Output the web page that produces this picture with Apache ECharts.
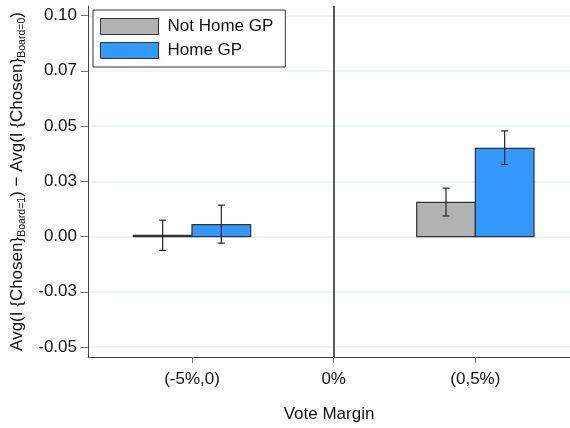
<!DOCTYPE html>
<html>
<head>
<meta charset="utf-8">
<script src="https://cdn.jsdelivr.net/npm/echarts@6/dist/echarts.min.js"></script>
<style>html,body{margin:0;padding:0;background:#fff;}#c{width:570px;height:428px;}</style>
</head>
<body>
<div id="c"></div>
<script>
// ---- data ----
const categories = ['(-5%,0)', '0%', '(0,5%)'];
const categoryPos = [-1, 0, 1];
const groupPos = [-1, 1];
const notHome = [0.0005, 0.0155];
const notHomeLow = [-0.0063, 0.0093];
const notHomeHigh = [0.0074, 0.0219];
const home = [0.0054, 0.0399];
const homeLow = [-0.0030, 0.0326];
const homeHigh = [0.0142, 0.0478];
const yTickValues = [-0.05, -0.025, 0, 0.025, 0.05, 0.075, 0.1];
const yTickLabels = ['-0.05', '-0.03', '0.00', '0.03', '0.05', '0.07', '0.10'];
const seriesNames = ['Not Home GP', 'Home GP'];

const FONT = 'Liberation Sans';
const FS = 17;
const BW = 0.414;
const colors = ['#b3b3b3', '#3399ff'];

function makeRender(side) {
  return function (params, api) {
    const x = api.value(0), v = api.value(1), lo = api.value(2), hi = api.value(3);
    const x0 = side < 0 ? x - BW : x;
    const x1 = side < 0 ? x : x + BW;
    const a = api.coord([x0, v]);
    const b = api.coord([x1, 0]);
    const cx = api.coord([(x0 + x1) / 2, lo]);
    const ch = api.coord([(x0 + x1) / 2, hi]);
    const cap = 3.5;
    return {
      type: 'group',
      children: [
        {type: 'rect', shape: {x: a[0], y: Math.min(a[1], b[1]), width: b[0] - a[0], height: Math.abs(b[1] - a[1])},
         style: {fill: colors[side < 0 ? 0 : 1], stroke: '#333', lineWidth: 1.2}},
        {type: 'line', shape: {x1: cx[0], y1: cx[1], x2: ch[0], y2: ch[1]}, style: {stroke: '#222', lineWidth: 1.2}},
        {type: 'line', shape: {x1: cx[0] - cap, y1: cx[1], x2: cx[0] + cap, y2: cx[1]}, style: {stroke: '#222', lineWidth: 1.2}},
        {type: 'line', shape: {x1: ch[0] - cap, y1: ch[1], x2: ch[0] + cap, y2: ch[1]}, style: {stroke: '#222', lineWidth: 1.2}}
      ]
    };
  };
}

const chart = echarts.init(document.getElementById('c'), null, {renderer: 'canvas'});
chart.setOption({
  animation: false,
  backgroundColor: '#fff',
  textStyle: {fontFamily: FONT},
  grid: {left: 88, right: 0, top: 6, bottom: 71, containLabel: false, outerBoundsMode: 'none'},
  legend: {
    show: true, orient: 'vertical', left: 93, top: 10,
    backgroundColor: '#fff', borderColor: '#333', borderWidth: 1,
    padding: [8, 12, 8, 7], itemGap: 7, itemWidth: 58, itemHeight: 16,
    textStyle: {fontFamily: FONT, fontSize: FS, color: '#111', padding: [0, 0, 0, 4]},
    data: seriesNames.map((n, i) => ({name: n, icon: 'rect', itemStyle: {color: colors[i], borderColor: '#333', borderWidth: 1}}))
  },
  xAxis: {
    type: 'value', min: -1.734, max: 1.668,
    name: 'Vote Margin', nameLocation: 'middle', nameGap: 49,
    nameTextStyle: {fontFamily: FONT, fontSize: FS, color: '#111'},
    axisLine: {show: true, onZero: false, lineStyle: {color: '#444', width: 1}},
    axisTick: {show: true, customValues: categoryPos, length: 6, lineStyle: {color: '#777'}},
    axisLabel: {customValues: categoryPos, margin: 14, fontFamily: FONT, fontSize: FS, color: '#111',
      formatter: function (v) { const i = categoryPos.findIndex(p => Math.abs(p - v) < 1e-6); return i >= 0 ? categories[i] : ''; }},
    splitLine: {show: false}
  },
  yAxis: {
    type: 'value', min: -0.0545, max: 0.1043,
    name: 'Avg(I {Chosen}{s|Board=1}) − Avg(I {Chosen}{s|Board=0})',
    nameLocation: 'middle', nameGap: 54,
    nameTextStyle: {fontFamily: FONT, fontSize: FS, color: '#111',
      rich: {s: {fontFamily: FONT, fontSize: 10.5, color: '#111', verticalAlign: 'bottom', padding: [0, 0, -2, 0]}}},
    axisLine: {show: true, onZero: false, lineStyle: {color: '#444', width: 1}},
    axisTick: {show: true, customValues: yTickValues, length: 7, lineStyle: {color: '#777'}},
    axisLabel: {customValues: yTickValues, margin: 11, fontFamily: FONT, fontSize: FS, color: '#111',
      formatter: function (v) { const i = yTickValues.findIndex(p => Math.abs(p - v) < 1e-9); return i >= 0 ? yTickLabels[i] : ''; }},
    splitLine: {show: true, lineStyle: {color: '#e8eff0', width: 1.5}}
  },
  series: [
    {
      name: seriesNames[0], type: 'custom', itemStyle: {color: colors[0]},
      renderItem: makeRender(-1),
      encode: {x: 0, y: 1},
      data: groupPos.map((p, i) => [p, notHome[i], notHomeLow[i], notHomeHigh[i]]),
      markLine: {silent: true, symbol: 'none', label: {show: false},
        lineStyle: {color: '#222', width: 1.5, type: 'solid'}, data: [{xAxis: 0}]},
      z: 3
    },
    {
      name: seriesNames[1], type: 'custom', itemStyle: {color: colors[1]},
      renderItem: makeRender(1),
      encode: {x: 0, y: 1},
      data: groupPos.map((p, i) => [p, home[i], homeLow[i], homeHigh[i]]),
      z: 3
    }
  ]
});
</script>
</body>
</html>
